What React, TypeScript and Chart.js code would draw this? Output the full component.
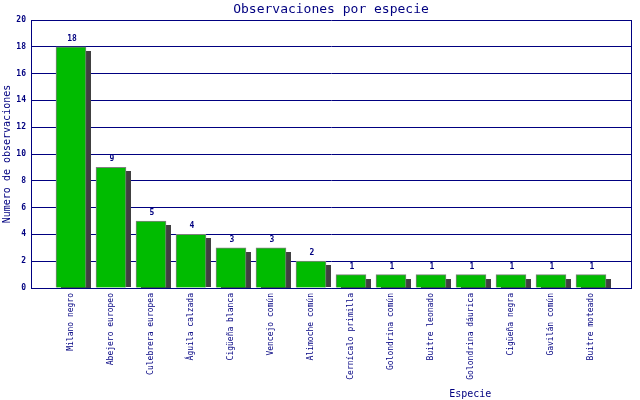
import React, { useEffect, useRef } from "react";
import { Chart, registerables } from "chart.js";

Chart.register(...registerables);

const species: string[] = [
  "Milano negro",
  "Abejero europeo",
  "Culebrera europea",
  "Águila calzada",
  "Cigüeña blanca",
  "Vencejo común",
  "Alimoche común",
  "Cernícalo primilla",
  "Golondrina común",
  "Buitre leonado",
  "Golondrina dáurica",
  "Cigüeña negra",
  "Gavilán común",
  "Buitre moteado",
];
const observations: number[] = [18, 9, 5, 4, 3, 3, 2, 1, 1, 1, 1, 1, 1, 1];

const chartTitle = "Observaciones por especie";
const xTitle = "Especie";
const yTitle = "Numero de observaciones";
const yMin = 0;
const yMax = 20;
const yStep = 2;

const NAVY = "#000080";
const MONO = '"DejaVu Sans Mono", monospace';

const extras = {
  id: "extras",
  beforeDatasetsDraw(chart: any) {
    const ctx = chart.ctx;
    const meta = chart.getDatasetMeta(0);
    const data = chart.data.datasets[0].data;
    ctx.save();
    ctx.fillStyle = "#404040";
    meta.data.forEach((el: any, i: number) => {
      if (data[i] == null) return;
      const { x, y, base, width } = el.getProps(["x", "y", "base", "width"], true);
      const top = y + 4;
      ctx.fillRect(Math.round(x - width / 2 + 5), Math.round(top), Math.round(width), Math.round(base - top));
    });
    ctx.restore();
  },
  afterDatasetsDraw(chart: any) {
    const ctx = chart.ctx;
    const meta = chart.getDatasetMeta(0);
    const data = chart.data.datasets[0].data;
    const area = chart.chartArea;
    ctx.save();
    ctx.fillStyle = NAVY;
    ctx.font = `bold 8px ${MONO}`;
    ctx.textAlign = "center";
    ctx.textBaseline = "middle";
    meta.data.forEach((el: any, i: number) => {
      if (data[i] == null) return;
      const { x, y } = el.getProps(["x", "y"], true);
      ctx.fillText(String(data[i]), x + 1, y - 8);
    });
    // right frame line
    ctx.strokeStyle = NAVY;
    ctx.lineWidth = 1;
    const rx = Math.round(area.right) + 0.5;
    ctx.beginPath();
    ctx.moveTo(rx, Math.round(area.top));
    ctx.lineTo(rx, Math.round(area.bottom) + 1);
    ctx.stroke();
    ctx.restore();
  },
  afterDraw(chart: any) {
    const ctx = chart.ctx;
    const area = chart.chartArea;
    ctx.save();
    ctx.fillStyle = NAVY;
    ctx.textAlign = "center";
    ctx.font = `13px ${MONO}`;
    ctx.textBaseline = "alphabetic";
    ctx.fillText(chartTitle, (area.left + area.right) / 2, 13);
    ctx.font = `10px ${MONO}`;
    ctx.textBaseline = "middle";
    ctx.fillText(xTitle, area.left + (area.right - area.left) * 0.732, 394);
    ctx.restore();
  },
};

export default function App() {
  const ref = useRef<HTMLCanvasElement | null>(null);

  useEffect(() => {
    if (!ref.current) return;
    const labels = ["", ...species, ""];
    const values = [null, ...observations, null];
    const chart = new Chart(ref.current, {
      type: "bar",
      data: {
        labels,
        datasets: [
          {
            data: values as any,
            backgroundColor: "#00BB00",
            borderColor: "#808080",
            borderWidth: 1,
            barThickness: 30,
          },
        ],
      },
      plugins: [extras],
      options: {
        animation: false,
        responsive: false,
        devicePixelRatio: 1,
        layout: { padding: { left: 0, right: 9, top: 20, bottom: 0 } },
        plugins: {
          legend: { display: false },
          tooltip: { enabled: false },
          title: { display: false },
        },
        scales: {
          x: {
            type: "category",
            offset: false,
            grid: { display: false, drawTicks: false },
            border: { display: true, color: NAVY, width: 1 },
            ticks: {
              autoSkip: false,
              minRotation: 90,
              maxRotation: 90,
              padding: 5,
              color: NAVY,
              font: { family: MONO, size: 8 },
            },
            afterFit(scale: any) {
              scale.height = 112;
              scale.paddingRight = 0;
              scale.paddingLeft = 0;
            },
          },
          y: {
            min: yMin,
            max: yMax,
            ticks: {
              stepSize: yStep,
              padding: 5,
              color: NAVY,
              font: { family: MONO, size: 8, weight: "bold" },
            },
            grid: { color: NAVY, lineWidth: 1, drawTicks: false },
            border: { display: true, color: NAVY, width: 1 },
            title: {
              display: true,
              text: yTitle,
              color: NAVY,
              font: { family: MONO, size: 10 },
              padding: { top: 1.5, bottom: 0 },
            },
            afterFit(scale: any) {
              scale.width = 31;
              scale.paddingTop = 0;
            },
          },
        },
      },
    });
    return () => chart.destroy();
  }, []);

  return (
    <div style={{ position: "absolute", left: 0, top: 0, width: 640, height: 400, background: "#fff" }}>
      <canvas ref={ref} width={640} height={400} style={{ display: "block" }} />
    </div>
  );
}
